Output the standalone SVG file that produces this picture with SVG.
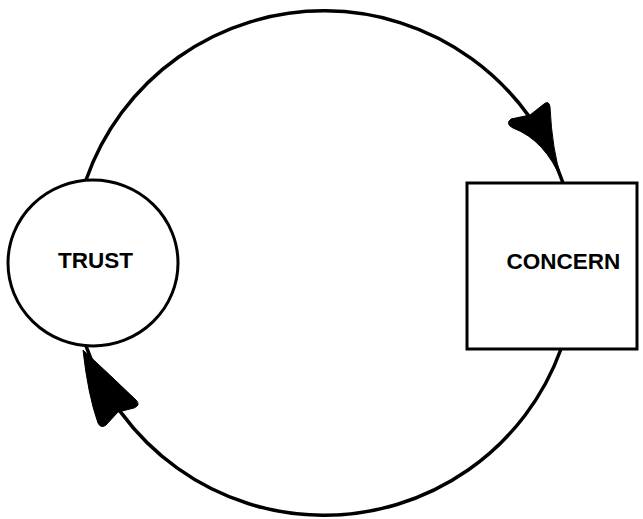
<svg xmlns="http://www.w3.org/2000/svg" width="643" height="519" viewBox="0 0 643 519">
  <style>
    .shape { fill: #fff; stroke: #000; stroke-width: 3; }
    .flow { fill: none; stroke: #000; stroke-width: 3.5; stroke-linecap: round; }
    .head { fill: #000; stroke: #000; stroke-width: 1; stroke-linejoin: round; }
    .label { font-family: "Liberation Sans", Arial, sans-serif; font-weight: bold; font-size: 22.5px; text-anchor: middle; fill: #000; }
  </style>
  <rect width="643" height="519" fill="#fff"/>

  <!-- connectors: one large loop split into two arcs -->
  <g id="connectors">
    <path class="flow" d="M 86 180 A 252 252 0 0 1 563 183"/>
    <path class="flow" d="M 561 349 A 252 252 0 0 1 86 346"/>
    <!-- arrowhead into CONCERN -->
    <path class="head" d="M 562 181 Q 545 140 513 128 Q 505 124 511 119 L 530 115 L 544 104 Q 549 100 550 107 Q 552 150 562 181 Z"/>
    <!-- arrowhead into TRUST -->
    <path class="head" d="M 83 350 Q 88 395 98 423 Q 101 429 106 425 L 118 412 L 134 408 Q 141 405 136 400 Q 110 375 83 350 Z"/>
  </g>

  <g id="trust">
    <ellipse class="shape" cx="93" cy="263" rx="85" ry="83"/>
    <text class="label" x="95.5" y="268">TRUST</text>
  </g>

  <g id="concern">
    <rect class="shape" x="467" y="183" width="170" height="166"/>
    <text class="label" x="563.5" y="268.5">CONCERN</text>
  </g>
</svg>
